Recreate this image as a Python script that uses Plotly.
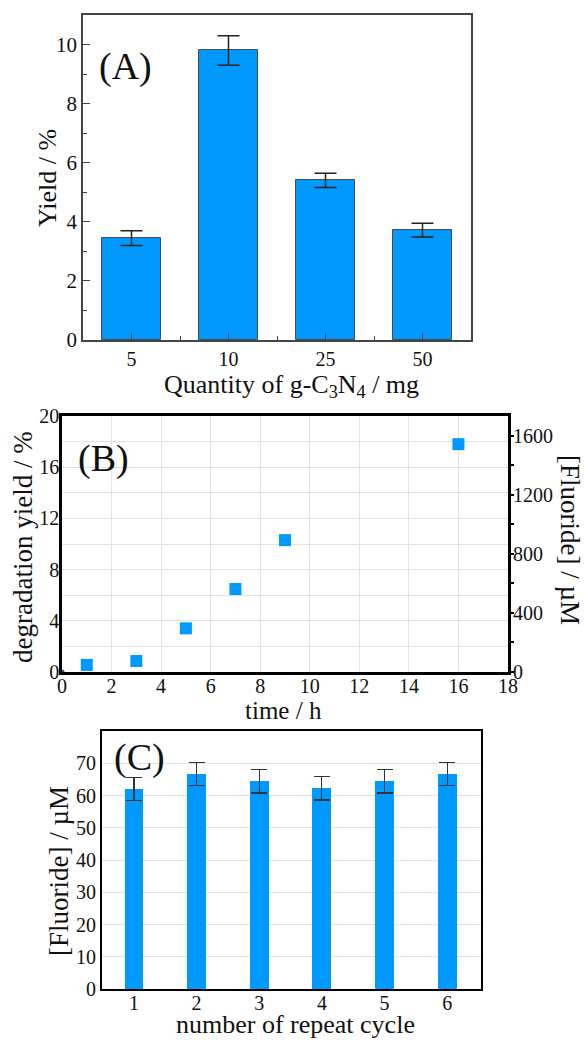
import plotly.graph_objects as go

# ---------------- data ----------------
# Panel A
a_categories = ["5", "10", "25", "50"]
a_yield = [3.45, 9.8, 5.4, 3.72]
a_err = [0.25, 0.5, 0.24, 0.23]

# Panel B
b_time = [1, 3, 5, 7, 9, 16]
b_yield = [0.55, 0.86, 3.41, 6.48, 10.3, 17.8]
b_origin_time = [0]
b_origin_yield = [0]
b_right_ticks = [0, 400, 800, 1200, 1600]

# Panel C
c_cycle = [1, 2, 3, 4, 5, 6]
c_fluoride = [62.1, 66.7, 64.4, 62.2, 64.4, 66.7]
c_err = [3.6, 3.6, 3.6, 3.6, 3.6, 3.6]

W, H = 585, 1040
BLUE = "#0099FF"
FONT = "Liberation Serif"


def px_x(p):
    return p / W


def px_y(p):
    return 1 - p / H


fig = go.Figure()

# ---- Panel A ----
a_idx = list(range(len(a_categories)))
fig.add_trace(go.Bar(
    x=a_idx, y=a_yield, width=0.6,
    marker=dict(color=BLUE, line=dict(color="#4a4a4a", width=1)),
    error_y=dict(type="data", array=a_err, color="#222222", thickness=1.5, width=11),
    xaxis="x", yaxis="y", showlegend=False,
))

# ---- Panel B ----
fig.add_trace(go.Scatter(
    x=b_time, y=b_yield, mode="markers",
    marker=dict(symbol="square", size=12, color=BLUE),
    xaxis="x2", yaxis="y2", showlegend=False,
))
fig.add_trace(go.Scatter(
    x=b_origin_time, y=b_origin_yield, mode="markers",
    marker=dict(symbol="circle", size=5, color="#1d4f8c"),
    cliponaxis=False, xaxis="x2", yaxis="y2", showlegend=False,
))
fig.add_trace(go.Scatter(
    x=[None], y=[None], mode="markers", xaxis="x2", yaxis="y4",
    showlegend=False, hoverinfo="skip",
))

# ---- Panel C ----
fig.add_trace(go.Bar(
    x=c_cycle, y=c_fluoride, width=0.3,
    marker=dict(color=BLUE, line=dict(width=0)),
    error_y=dict(type="data", array=c_err, color="#333333", thickness=1.2, width=8),
    xaxis="x3", yaxis="y3", showlegend=False,
))

tickfont = dict(family=FONT, size=21, color="#111111")
tickfont_b = dict(family=FONT, size=20, color="#111111")

dom_a_x = [px_x(83), px_x(471)]
dom_a_y = [px_y(340), px_y(15)]
dom_b_x = [px_x(62), px_x(508)]
dom_b_y = [px_y(672), px_y(416)]
dom_c_x = [px_x(102), px_x(481)]
dom_c_y = [px_y(989), px_y(731)]

fig.update_layout(
    width=W, height=H,
    margin=dict(l=0, r=0, t=0, b=0),
    paper_bgcolor="white", plot_bgcolor="white",
    font=dict(family=FONT, color="#111111"),
    bargap=0,
    xaxis=dict(
        domain=dom_a_x, anchor="y", range=[-0.5, 3.5], automargin=False,
        tickmode="array", tickvals=a_idx, ticktext=a_categories,
        ticks="inside", ticklen=7, tickwidth=1, tickcolor="#444",
        minor=dict(tickmode="array", tickvals=[0.5, 1.5, 2.5], ticks="inside", ticklen=4, tickcolor="#444"),
        showline=True, linecolor="#444", linewidth=1.5, mirror=True,
        showgrid=False, zeroline=False, tickfont=dict(family=FONT, size=20, color="#111"),
        ticklabelstandoff=0,
    ),
    yaxis=dict(
        domain=dom_a_y, anchor="x", range=[0, 11], automargin=False,
        tickmode="linear", tick0=0, dtick=2,
        ticks="inside", ticklen=7, tickwidth=1, tickcolor="#444",
        minor=dict(dtick=1, ticks="inside", ticklen=4, tickcolor="#444"),
        showline=True, linecolor="#444", linewidth=1.5, mirror=True,
        showgrid=False, zeroline=False, tickfont=tickfont,
    ),
    xaxis2=dict(
        domain=dom_b_x, anchor="y2", range=[0, 18], automargin=False,
        tickmode="linear", tick0=0, dtick=2, ticks="",
        showline=True, linecolor="black", linewidth=2.5, mirror=True,
        showgrid=True, gridcolor="#e2e2e2", gridwidth=1, zeroline=False,
        tickfont=tickfont_b, ticklabelstandoff=-6,
    ),
    yaxis2=dict(
        domain=dom_b_y, anchor="x2", range=[0, 20], automargin=False,
        tickmode="linear", tick0=0, dtick=4, ticks="",
        minor=dict(dtick=2, showgrid=True, gridcolor="#e2e2e2", gridwidth=1),
        showline=True, linecolor="black", linewidth=2.5, mirror=True,
        showgrid=True, gridcolor="#e2e2e2", gridwidth=1, zeroline=False,
        tickfont=tickfont_b, ticklabelstandoff=-4,
    ),
    yaxis4=dict(
        overlaying="y2", side="right", anchor="x2", range=[0, 1735], automargin=False,
        tickmode="array", tickvals=b_right_ticks,
        ticks="outside", ticklen=5, tickwidth=1.5, tickcolor="black",
        minor=dict(tickmode="array", tickvals=[200, 600, 1000, 1400], ticks="outside", ticklen=5, tickwidth=1.5, tickcolor="black"),
        showline=False, showgrid=False, zeroline=False, tickfont=tickfont_b, ticklabelstandoff=-5,
    ),
    xaxis3=dict(
        domain=dom_c_x, anchor="y3", range=[0.49, 6.54], automargin=False,
        tickmode="array", tickvals=c_cycle, ticks="",
        showline=True, linecolor="black", linewidth=2, mirror=True,
        showgrid=False, zeroline=False, tickfont=dict(family=FONT, size=20, color="#111"),
        ticklabelstandoff=-5,
    ),
    yaxis3=dict(
        domain=dom_c_y, anchor="x3", range=[0, 80], automargin=False,
        tickmode="array", tickvals=[0, 10, 20, 30, 40, 50, 60, 70], ticks="",
        showline=True, linecolor="black", linewidth=2, mirror=True,
        showgrid=True, gridcolor="#e4e4e4", gridwidth=1, zeroline=False,
        tickfont=dict(family=FONT, size=20, color="#111"),
    ),
)

# panel letters
for text, x, y in [("(A)", 125, 66), ("(B)", 103, 458), ("(C)", 139, 757)]:
    fig.add_annotation(text=text, x=px_x(x), y=px_y(y), xref="paper", yref="paper",
                       showarrow=False, xanchor="center", yanchor="middle",
                       font=dict(family=FONT, size=38, color="#111"))

# axis titles (text, center x px, center y px, angle, size)
titles = [
    ("Yield / %", 47, 178, -90, 26),
    ("Quantity of g-C<sub>3</sub>N<sub>4</sub> / mg", 291, 386, 0, 26),
    ("degradation yield / %", 23, 547, -90, 27),
    ("time / h", 283, 710, 0, 25),
    ("[Fluoride] / µM", 570, 540, 90, 27),
    ("[Fluoride] / µM", 59, 871, -90, 27),
    ("number of repeat cycle", 295, 1024, 0, 26),
]
for text, x, y, ang, size in titles:
    fig.add_annotation(text=text, x=px_x(x), y=px_y(y), xref="paper", yref="paper",
                       showarrow=False, textangle=ang, xanchor="center", yanchor="middle",
                       font=dict(family=FONT, size=size, color="#111"))

fig.write_html("out.html", config={"displayModeBar": False},
               post_script="document.body.style.margin='0';document.body.style.padding='0';")
